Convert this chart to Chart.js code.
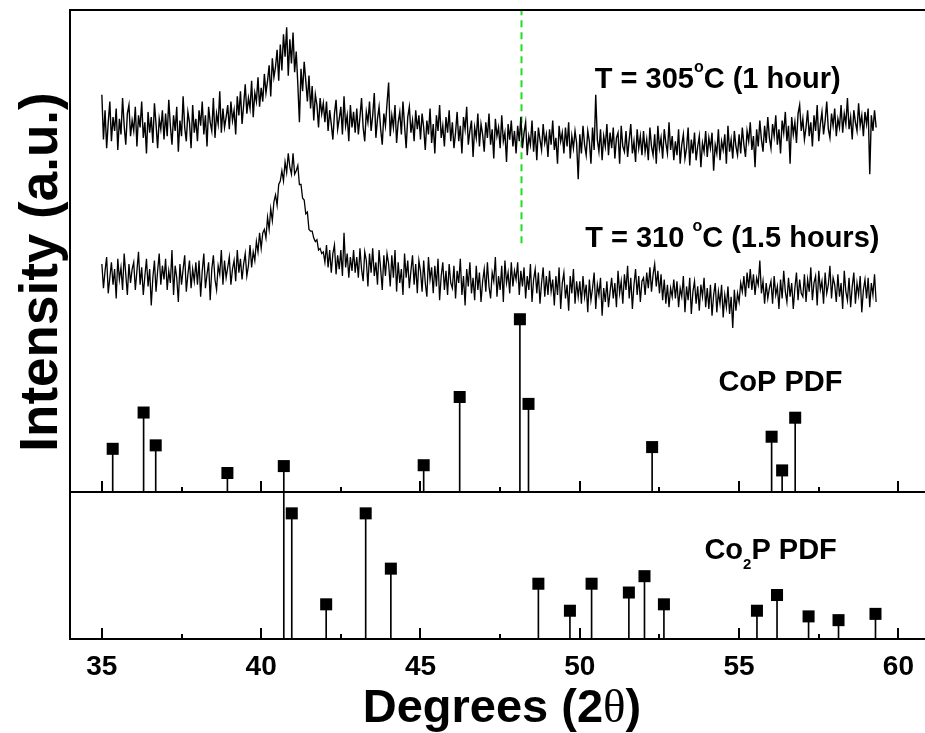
<!DOCTYPE html>
<html>
<head>
<meta charset="utf-8">
<script src="https://cdn.jsdelivr.net/npm/chart.js@4.4.1/dist/chart.umd.min.js"></script>
<style>
  html, body { margin: 0; padding: 0; background: #fff; }
  canvas { display: block; }
</style>
</head>
<body>
<canvas id="xrd" width="925" height="733"></canvas>
<script>
// measured scans: 2θ grid start / step, intensities in a.u. (top panel scale)
const scanStart = 35.0;
const scanStep = 0.05;

// T = 305 °C (1 hour), one row per degree
const scan305 = [
  230, 204, 221, 199, 214, 226, 203, 217, 209, 222, 198, 216, 207, 228, 212, 201, 219, 224, 206, 215,
  209, 223, 200, 218, 211, 226, 205, 214, 196, 220, 208, 217, 202, 225, 213, 199, 216, 210, 221, 204,
  219, 206, 227, 212, 201, 218, 209, 223, 197, 215, 206, 229, 211, 203, 220, 214, 199, 224, 208, 216,
  203, 221, 212, 226, 207, 218, 200, 223, 214, 209, 228, 205, 219, 213, 232, 208, 222, 211, 217, 224,
  210, 226, 215, 221, 207, 229, 218, 232, 213, 224, 236, 219, 228, 222, 238, 217, 231, 226, 240, 223,
  234, 226, 242, 231, 238, 247, 229, 251, 240, 246, 256, 238, 259, 244, 265, 252, 269, 241, 262, 248,
  266, 243, 255, 236, 214, 245, 232, 249, 238, 226, 241, 222, 235, 215, 230, 224, 211, 228, 219, 225,
  214, 226, 209, 221, 213, 204, 219, 227, 210, 216, 223, 207, 229, 212, 218, 203, 224, 211, 220, 208,
  222, 207, 217, 228, 211, 203, 220, 214, 226, 209, 218, 231, 205, 216, 223, 210, 201, 219, 212, 225,
  237, 206, 218, 211, 224, 202, 214, 220, 207, 226, 212, 199, 217, 223, 208, 215, 203, 221, 210, 218,
  204, 219, 211, 198, 215, 207, 222, 202, 213, 196, 218, 209, 224, 205, 212, 200, 217, 208, 221, 203,
  214, 199, 208, 220, 203, 212, 196, 217, 210, 223, 201, 209, 215, 194, 211, 205, 219, 200, 213, 207,
  197, 214, 205, 219, 201, 210, 193, 216, 206, 211, 199, 218, 203, 208, 191, 213, 204, 215, 200, 209,
  196, 212, 203, 217, 199, 208, 214, 195, 206, 201, 215, 197, 209, 192, 211, 204, 198, 213, 202, 207,
  194, 210, 201, 215, 198, 205, 190, 212, 203, 208, 196, 211, 200, 214, 193, 206, 199, 209, 202, 181,
  207, 196, 212, 201, 195, 209, 203, 190, 211, 198, 230, 204, 197, 210, 192, 206, 200, 213, 195, 208,
  199, 211, 193, 205, 208, 190, 212, 200, 197, 209, 194, 204, 213, 196, 203, 191, 210, 199, 206, 195,
  209, 197, 204, 192, 211, 200, 195, 207, 190, 212, 199, 205, 193, 210, 202, 196, 214, 198, 206, 192,
  203, 195, 210, 190, 201, 207, 193, 199, 211, 189, 204, 196, 208, 192, 200, 206, 188, 202, 197, 209,
  194, 205, 199, 208, 186, 201, 196, 210, 192, 203, 198, 207, 190, 212, 197, 204, 193, 209, 200, 195,
  207, 196, 211, 201, 194, 209, 203, 214, 198, 206, 188, 210, 200, 215, 204, 197, 212, 202, 217, 205,
  199, 213, 206, 218, 201, 210, 196, 215, 208, 220, 203, 212, 190, 217, 207, 214, 202, 219, 224, 209,
  216, 204, 211, 221, 206, 214, 200, 218, 209, 224, 203, 213, 220, 207, 215, 226, 210, 205, 219, 212,
  222, 206, 216, 211, 224, 208, 219, 213, 228, 210, 217, 204, 221, 214, 209, 225, 212, 218, 206, 220,
  213, 222, 184, 218, 209, 221, 211
];

// T = 310 °C (1.5 hours), one row per degree
const scan310 = [
  132, 118, 128, 136, 115, 124, 133, 120, 129, 112, 135, 123, 130, 117, 138, 126, 114, 132, 121, 129,
  133, 117, 128, 139, 120, 130, 114, 125, 135, 119, 129, 108, 124, 134, 116, 128, 138, 120, 131, 123,
  135, 117, 128, 121, 140, 114, 131, 124, 110, 132, 120, 129, 137, 116, 126, 134, 118, 129, 122, 133,
  120, 134, 113, 128, 138, 118, 126, 133, 111, 129, 137, 123, 117, 131, 126, 140, 120, 134, 124, 130,
  136, 120, 129, 134, 122, 140, 127, 135, 123, 132, 138, 125, 131, 143, 130, 139, 134, 145, 139, 150,
  141, 150, 152, 147, 159, 152, 164, 157, 168, 172, 166, 178, 180, 186, 180, 191, 185, 196, 188, 184,
  196, 184, 186, 189, 178, 178, 170, 169, 161, 162, 152, 151, 151, 147, 145, 146, 140, 141, 138, 139,
  133, 143, 130, 140, 127, 138, 143, 126, 137, 129, 140, 125, 150, 130, 138, 124, 136, 128, 140, 127,
  136, 124, 141, 129, 122, 139, 134, 119, 138, 127, 141, 125, 133, 120, 140, 129, 117, 137, 125, 138,
  132, 119, 137, 124, 140, 116, 133, 121, 129, 114, 138, 124, 134, 118, 128, 137, 120, 132, 115, 134,
  128, 116, 134, 121, 113, 136, 123, 130, 115, 131, 119, 135, 111, 125, 133, 117, 128, 114, 132, 121,
  118, 131, 112, 128, 121, 135, 114, 125, 108, 129, 119, 133, 115, 124, 111, 131, 117, 127, 110, 122,
  129, 116, 133, 119, 112, 127, 122, 136, 113, 125, 117, 131, 110, 134, 121, 127, 115, 133, 119, 128,
  123, 133, 114, 128, 119, 130, 112, 125, 117, 132, 110, 123, 129, 115, 127, 109, 121, 130, 113, 125,
  114, 128, 116, 123, 108, 125, 114, 130, 106, 121, 127, 112, 120, 105, 125, 115, 129, 109, 122, 113,
  122, 109, 125, 113, 120, 104, 123, 111, 118, 127, 106, 120, 114, 124, 102, 118, 110, 122, 107, 116,
  124, 112, 121, 107, 128, 115, 122, 109, 126, 117, 131, 112, 124, 106, 120, 129, 114, 125, 110, 122,
  124, 114, 127, 118, 130, 116, 126, 132, 119, 128, 115, 126, 111, 123, 109, 120, 107, 118, 113, 123,
  112, 122, 107, 118, 113, 125, 104, 119, 111, 124, 103, 116, 122, 109, 119, 105, 120, 113, 124, 107,
  118, 106, 120, 102, 114, 121, 104, 116, 109, 120, 101, 114, 107, 119, 103, 113, 95, 117, 105, 115,
  110, 121, 116, 125, 113, 127, 118, 129, 117, 126, 114, 124, 120, 134, 115, 122, 109, 121, 112, 118,
  122, 109, 125, 114, 119, 106, 123, 112, 128, 116, 110, 124, 113, 121, 106, 118, 127, 111, 123, 115,
  113, 126, 110, 123, 116, 130, 111, 121, 125, 108, 128, 117, 122, 109, 127, 115, 120, 131, 112, 124,
  120, 110, 126, 113, 121, 106, 128, 116, 111, 124, 107, 119, 127, 109, 121, 114, 125, 104, 117, 123,
  112, 124, 107, 121, 114, 126, 110
];

// reference patterns (relative intensity)
const copPos = [35.34, 36.31, 36.69, 38.94, 40.71, 45.10, 46.23, 48.12, 48.39, 52.27, 56.02, 56.35, 56.76];
const copInt = [25, 46, 27, 11, 15, 15.5, 55, 100, 51, 26, 32, 12.5, 43];

const co2pPos = [40.96, 42.04, 43.28, 44.07, 48.70, 49.69, 50.37, 51.54, 52.03, 52.64, 55.56, 56.19, 57.18, 58.12, 59.28];
const co2pInt = [100, 27.6, 100, 56, 44, 22.5, 44, 37, 50, 27.6, 22.5, 35, 18, 15, 20];

// CoP line that runs on through the Co2P panel
const guidePos = [40.71];

// green dashed marker line
const markerPos = 48.17;
const markerFrom = 144;

const xTicks = [35, 40, 45, 50, 55, 60];
const xMinorTicks = [37.5, 42.5, 47.5, 52.5, 57.5];

const topMax = 279;
const botMax = 117;

const FONT = '"Liberation Sans", Arial, Helvetica, sans-serif';

const scanPoints = arr => arr.map((v, i) => ({ x: +(scanStart + i * scanStep).toFixed(2), y: v }));
const sticks = (pos, val) => pos.map((x, i) => ({ x: x, y: val[i] }));

// frame, panel separator and the inward tick marks
const panelFrame = {
    id: 'panelFrame',
    afterDatasetsDraw(chart) {
        const { ctx, chartArea, scales } = chart;
        const x = scales.x, top = scales.y, bot = scales.y2;
        ctx.save();
        ctx.strokeStyle = '#000';
        ctx.lineWidth = 2;
        ctx.beginPath();
        ctx.moveTo(chartArea.left - 1, top.top); ctx.lineTo(chart.width, top.top);
        ctx.moveTo(chartArea.left, top.top); ctx.lineTo(chartArea.left, bot.bottom + 1);
        ctx.moveTo(chartArea.left, top.bottom); ctx.lineTo(chart.width, top.bottom);
        ctx.moveTo(chartArea.left - 1, bot.bottom); ctx.lineTo(chart.width, bot.bottom);
        [top.bottom, bot.bottom].forEach(base => {
            xTicks.forEach(v => {
                const px = Math.round(x.getPixelForValue(v));
                ctx.moveTo(px, base); ctx.lineTo(px, base - 11);
            });
            xMinorTicks.forEach(v => {
                const px = Math.round(x.getPixelForValue(v));
                ctx.moveTo(px, base); ctx.lineTo(px, base - 5);
            });
        });
        ctx.stroke();
        ctx.restore();
    }
};

function drawParts(ctx, x, y, parts) {
    let cx = x;
    parts.forEach(p => {
        ctx.font = (p.weight || 'bold') + ' ' + p.size + 'px ' + (p.family || FONT);
        ctx.fillText(p.t, cx, y + (p.dy || 0));
        cx += ctx.measureText(p.t).width;
    });
    return cx - x;
}

function partsWidth(ctx, parts) {
    let w = 0;
    parts.forEach(p => {
        ctx.font = (p.weight || 'bold') + ' ' + p.size + 'px ' + (p.family || FONT);
        w += ctx.measureText(p.t).width;
    });
    return w;
}

// labels, axis titles
const labels = {
    id: 'labels',
    afterDraw(chart) {
        const { ctx, scales } = chart;
        const x = scales.x, top = scales.y, bot = scales.y2;
        ctx.save();
        ctx.fillStyle = '#000';
        ctx.textBaseline = 'alphabetic';
        ctx.textAlign = 'left';

        drawParts(ctx, x.getPixelForValue(50.47), top.getPixelForValue(233.9), [
            { t: 'T = 305', size: 29 },
            { t: 'o', size: 16, dy: -16 },
            { t: 'C (1 hour)', size: 29 }
        ]);
        drawParts(ctx, x.getPixelForValue(50.17), top.getPixelForValue(141.9), [
            { t: 'T = 310 ', size: 29 },
            { t: 'o', size: 16, dy: -16 },
            { t: 'C (1.5 hours)', size: 29 }
        ]);
        drawParts(ctx, x.getPixelForValue(54.35), top.getPixelForValue(58.7), [
            { t: 'CoP PDF', size: 29 }
        ]);
        drawParts(ctx, x.getPixelForValue(53.91), bot.getPixelForValue(63.6), [
            { t: 'Co', size: 29 },
            { t: '2', size: 15, dy: 10 },
            { t: 'P PDF', size: 29 }
        ]);

        // x title
        const xt = [
            { t: 'Degrees (2', size: 47 },
            { t: 'θ', size: 47, weight: 'normal', family: '"Liberation Serif", "DejaVu Serif", serif' },
            { t: ')', size: 47 }
        ];
        const w = partsWidth(ctx, xt);
        drawParts(ctx, 502 - w / 2, 722, xt);

        // y title
        ctx.translate(57, 272);
        ctx.rotate(-Math.PI / 2);
        ctx.textAlign = 'center';
        ctx.font = 'bold 53px ' + FONT;
        ctx.fillText('Intensity (a.u.)', 0, 0);
        ctx.restore();
    }
};

const ctx = document.getElementById('xrd').getContext('2d');
new Chart(ctx, {
    type: 'scatter',
    data: {
        datasets: [
            {
                type: 'line',
                label: 'T = 305 °C (1 hour)',
                data: scanPoints(scan305),
                borderColor: '#000',
                borderWidth: 1.4,
                pointRadius: 0,
                tension: 0,
                yAxisID: 'y'
            },
            {
                type: 'line',
                label: 'T = 310 °C (1.5 hours)',
                data: scanPoints(scan310),
                borderColor: '#000',
                borderWidth: 1.3,
                pointRadius: 0,
                tension: 0,
                yAxisID: 'y'
            },
            {
                type: 'bar',
                label: 'CoP PDF lines',
                data: sticks(copPos, copInt),
                backgroundColor: '#000',
                barThickness: 1,
                grouped: false,
                yAxisID: 'y'
            },
            {
                type: 'scatter',
                label: 'CoP PDF',
                data: sticks(copPos, copInt),
                pointStyle: 'rect',
                pointRadius: 8.5,
                backgroundColor: '#000',
                borderWidth: 0,
                yAxisID: 'y'
            },
            {
                type: 'bar',
                label: 'guide',
                data: guidePos.map(p => ({ x: p, y: botMax })),
                backgroundColor: '#000',
                barThickness: 1,
                grouped: false,
                yAxisID: 'y2'
            },
            {
                type: 'bar',
                label: 'Co2P PDF lines',
                data: sticks(co2pPos, co2pInt),
                backgroundColor: '#000',
                barThickness: 1,
                grouped: false,
                yAxisID: 'y2'
            },
            {
                type: 'scatter',
                label: 'Co2P PDF',
                data: sticks(co2pPos, co2pInt),
                pointStyle: 'rect',
                pointRadius: 8.5,
                backgroundColor: '#000',
                borderWidth: 0,
                yAxisID: 'y2'
            },
            {
                type: 'line',
                label: 'marker',
                data: [{ x: markerPos, y: markerFrom }, { x: markerPos, y: topMax }],
                borderColor: '#22dd22',
                borderWidth: 2,
                borderDash: [7, 5],
                pointRadius: 0,
                yAxisID: 'y'
            }
        ]
    },
    options: {
        responsive: false,
        animation: false,
        devicePixelRatio: 1,
        layout: { autoPadding: false, padding: { left: 70, right: 0, top: 10, bottom: 38.4 } },
        plugins: {
            legend: { display: false },
            tooltip: { enabled: false }
        },
        scales: {
            x: {
                type: 'linear',
                offset: false,
                min: 34,
                max: 60.77,
                afterBuildTicks: axis => { axis.ticks = xTicks.map(v => ({ value: v })); },
                grid: { display: false, drawTicks: false, offset: false },
                border: { display: false },
                ticks: {
                    color: '#000',
                    padding: 11,
                    maxRotation: 0,
                    font: { family: FONT, size: 28, weight: 'bold', lineHeight: 1.2 }
                }
            },
            y: {
                type: 'linear',
                position: 'left',
                stack: 'panels',
                stackWeight: 482,
                weight: 2,
                min: 0,
                max: topMax,
                ticks: { display: false },
                grid: { display: false, drawTicks: false },
                border: { display: false }
            },
            y2: {
                type: 'linear',
                position: 'left',
                stack: 'panels',
                stackWeight: 147,
                weight: 1,
                min: 0,
                max: botMax,
                ticks: { display: false },
                grid: { display: false, drawTicks: false },
                border: { display: false }
            }
        }
    },
    plugins: [panelFrame, labels]
});
</script>
</body>
</html>
